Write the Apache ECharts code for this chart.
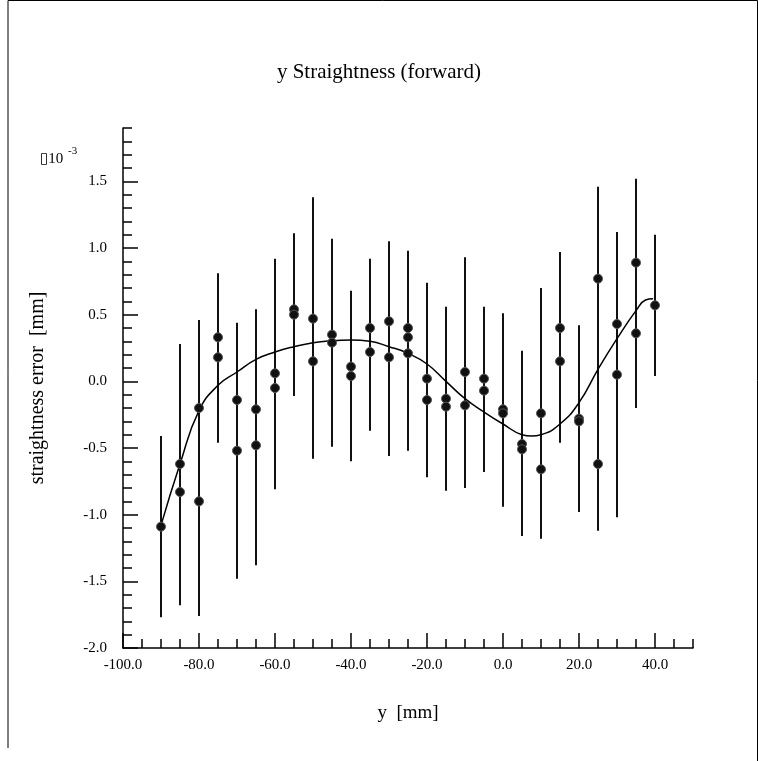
<!DOCTYPE html>
<html>
<head>
<meta charset="utf-8">
<script src="https://cdn.jsdelivr.net/npm/echarts@6/dist/echarts.min.js"></script>
<style>
html, body { margin: 0; padding: 0; background: #fff; }
#chart { width: 758px; height: 761px; }
</style>
</head>
<body>
<div id="chart"></div>
<script>
// measurement positions (mm)
var positions = [-90, -85, -80, -75, -70, -65, -60, -55, -50, -45, -40, -35, -30, -25, -20, -15, -10, -5, 0, 5, 10, 15, 20, 25, 30, 35, 40];
// straightness error (x10^-3 mm), one array per run
var run1 = [-1.09, -0.62, -0.20, 0.33, -0.14, -0.21, 0.06, 0.54, 0.47, 0.35, 0.11, 0.40, 0.45, 0.40, 0.02, -0.13, 0.07, 0.02, -0.21, -0.47, -0.24, 0.40, -0.28, 0.77, 0.43, 0.89, 0.57];
var run2 = [null, -0.83, -0.90, 0.18, -0.52, -0.48, -0.05, 0.50, 0.15, 0.29, 0.04, 0.22, 0.18, 0.33, -0.14, -0.19, -0.18, -0.07, -0.24, -0.51, -0.66, 0.15, -0.30, -0.62, 0.05, 0.36, null];
var run3 = [null, null, null, null, null, null, null, null, null, null, null, null, null, 0.21, null, null, null, null, null, null, null, null, null, null, null, null, null];
// error bar ends
var barLow  = [-1.77, -1.68, -1.76, -0.46, -1.48, -1.38, -0.81, -0.11, -0.58, -0.49, -0.60, -0.37, -0.56, -0.52, -0.72, -0.82, -0.80, -0.68, -0.94, -1.16, -1.18, -0.46, -0.98, -1.12, -1.02, -0.20, 0.04];
var barHigh = [-0.41, 0.28, 0.46, 0.81, 0.44, 0.54, 0.92, 1.11, 1.38, 1.07, 0.68, 0.92, 1.05, 0.98, 0.74, 0.56, 0.93, 0.56, 0.51, 0.23, 0.70, 0.97, 0.42, 1.46, 1.12, 1.52, 1.10];
// fitted curve
var fitX = [-90, -85, -80, -75, -70, -65, -60, -55, -50, -45, -40, -35, -30, -25, -20, -15, -10, -5, 0, 5, 7.5, 10, 15, 20, 25, 30, 35, 37.5, 39.5];
var fitY = [-1.08, -0.62, -0.22, -0.03, 0.07, 0.165, 0.22, 0.26, 0.29, 0.305, 0.31, 0.30, 0.26, 0.21, 0.13, 0.00, -0.13, -0.23, -0.32, -0.40, -0.41, -0.40, -0.32, -0.16, 0.09, 0.32, 0.53, 0.61, 0.62];
// tick labels
var xMajorTicks = [-100, -80, -60, -40, -20, 0, 20, 40];
var yMajorTicks = [-2.0, -1.5, -1.0, -0.5, 0.0, 0.5, 1.0, 1.5];

var FONT = '"Liberation Serif", "DejaVu Serif", serif';

var points = [];
[run1, run2, run3].forEach(function (run) {
    run.forEach(function (v, i) {
        if (v !== null) points.push([positions[i], v]);
    });
});
var bars = positions.map(function (p, i) {
    return [p, barLow[i], barHigh[i]];
});
var fit = fitX.map(function (x, i) {
    return [x, fitY[i]];
});

var chart = echarts.init(document.getElementById('chart'), null, {renderer: 'canvas'});

var option = {
    animation: false,
    backgroundColor: '#fff',
    title: {
        text: 'y Straightness (forward)',
        left: 'center',
        top: 57,
        textStyle: {fontFamily: FONT, fontSize: 21, fontWeight: 'normal', color: '#000'}
    },
    grid: {left: 123, right: 65, top: 128, bottom: 113},
    xAxis: [{
        type: 'value',
        min: -100,
        max: 50,
        position: 'bottom',
        name: 'y  [mm]',
        nameLocation: 'middle',
        nameGap: 56,
        nameTextStyle: {fontFamily: FONT, fontSize: 19, color: '#000'},
        axisLine: {show: true, onZero: false, lineStyle: {color: '#000', width: 1.5}},
        axisTick: {show: true, inside: true, length: 15, customValues: xMajorTicks, lineStyle: {color: '#000', width: 1.5}},
        axisLabel: {
            customValues: xMajorTicks,
            margin: 10,
            fontFamily: FONT, fontSize: 15, color: '#000',
            formatter: function (v) { return v.toFixed(1); }
        },
        splitLine: {show: false}
    }, {
        type: 'value',
        min: -100,
        max: 50,
        interval: 5,
        position: 'bottom',
        axisLine: {show: false, onZero: false},
        axisTick: {show: true, inside: true, length: 9, lineStyle: {color: '#000', width: 1.5}},
        axisLabel: {show: false},
        splitLine: {show: false}
    }],
    yAxis: [{
        type: 'value',
        min: -2.0,
        max: 1.9,
        position: 'left',
        name: 'straightness error  [mm]',
        nameLocation: 'middle',
        nameGap: 75,
        nameTextStyle: {fontFamily: FONT, fontSize: 20, color: '#000'},
        axisLine: {show: true, onZero: false, lineStyle: {color: '#000', width: 1.5}},
        axisTick: {show: true, inside: true, length: 15, customValues: yMajorTicks, lineStyle: {color: '#000', width: 1.5}},
        axisLabel: {
            customValues: yMajorTicks,
            margin: 16,
            fontFamily: FONT, fontSize: 15, color: '#000',
            formatter: function (v) { return v.toFixed(1); }
        },
        splitLine: {show: false}
    }, {
        type: 'value',
        min: -2.0,
        max: 1.9,
        interval: 0.1,
        position: 'left',
        axisLine: {show: false, onZero: false},
        axisTick: {show: true, inside: true, length: 9, lineStyle: {color: '#000', width: 1.5}},
        axisLabel: {show: false},
        splitLine: {show: false}
    }],
    graphic: [{
        type: 'polyline',
        shape: {points: [[8, 748], [8, 0.5], [757.5, 0.5], [757.5, 761]]},
        style: {stroke: '#000', lineWidth: 1, fill: null},
        silent: true
    }, {
        type: 'text',
        left: 40,
        top: 152,
        style: {text: '\u25AF10', font: '15px ' + FONT, fill: '#000'}
    }, {
        type: 'text',
        left: 68,
        top: 146,
        style: {text: '-3', font: '11px ' + FONT, fill: '#000'}
    }],
    series: [{
        type: 'custom',
        name: 'error',
        data: bars,
        encode: {x: 0, y: [1, 2]},
        renderItem: function (params, api) {
            var lo = api.coord([api.value(0), api.value(1)]);
            var hi = api.coord([api.value(0), api.value(2)]);
            return {
                type: 'line',
                shape: {x1: lo[0], y1: lo[1], x2: hi[0], y2: hi[1]},
                style: {stroke: '#111', lineWidth: 2}
            };
        },
        z: 2
    }, {
        type: 'line',
        name: 'fit',
        data: fit,
        smooth: 0.5,
        showSymbol: false,
        lineStyle: {color: '#000', width: 1.5},
        z: 3
    }, {
        type: 'scatter',
        name: 'data',
        data: points,
        symbol: 'circle',
        symbolSize: 9,
        itemStyle: {color: '#111', borderColor: '#555', borderWidth: 1, opacity: 1},
        z: 4
    }]
};
chart.setOption(option);
</script>
</body>
</html>
